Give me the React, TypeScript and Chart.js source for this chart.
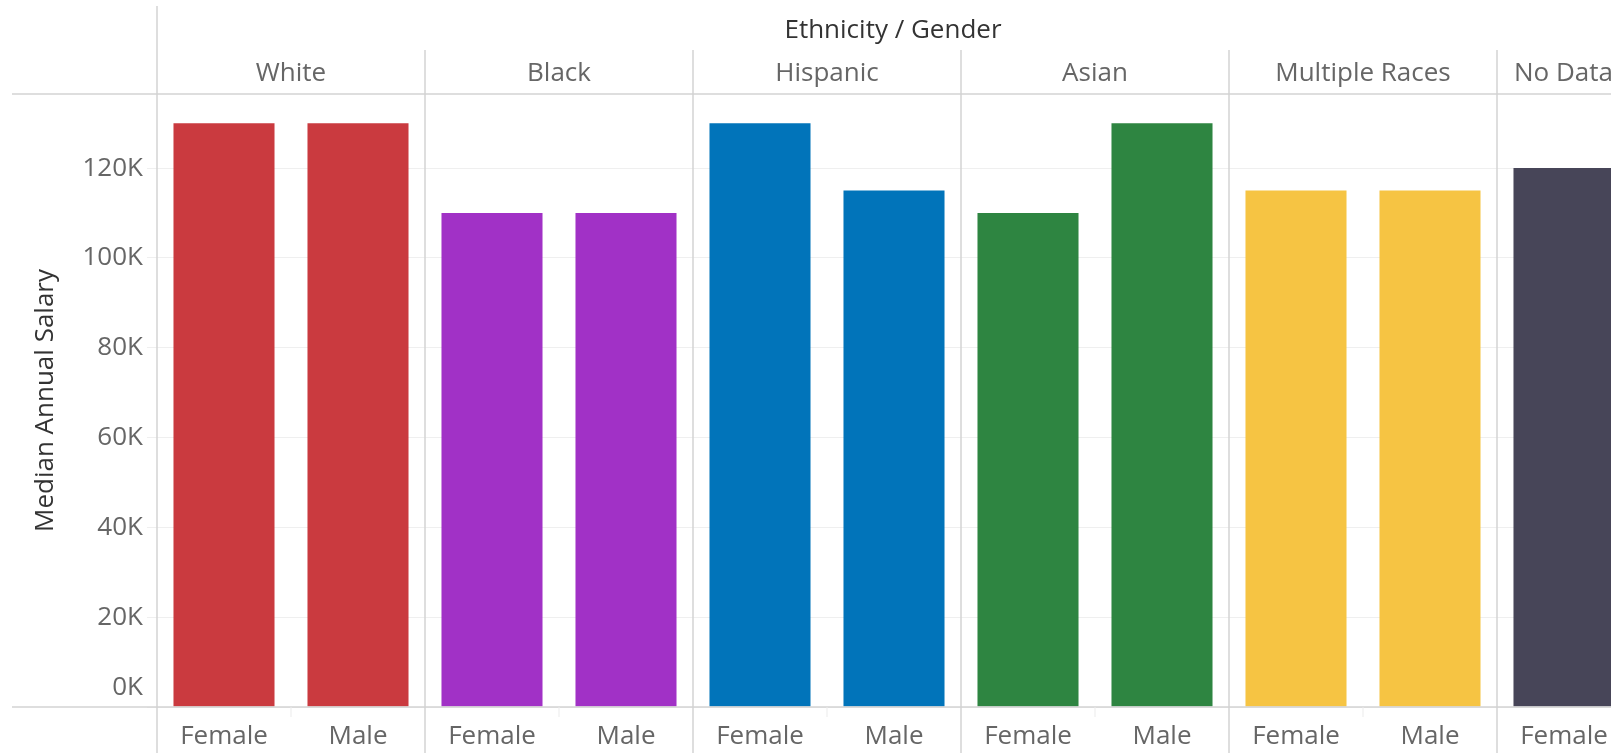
import React, { useEffect, useRef } from "react";
import { Chart, registerables } from "chart.js";

Chart.register(...registerables);

const groups = ["White", "Black", "Hispanic", "Asian", "Multiple Races", "No Data"];
const genders = ["Female", "Male"];
const categories = groups.flatMap(() => genders);
const salaries: (number | null)[] = [
  130000, 130000,
  110000, 110000,
  130000, 115000,
  110000, 130000,
  115000, 115000,
  120000, null,
];
const groupColors = ["#CA3A3F", "#A131C6", "#0174BA", "#2E8541", "#F6C443", "#474558"];
const yTicks = [0, 20000, 40000, 60000, 80000, 100000, 120000];
const yMax = 136500;
const yTitle = "Median Annual Salary";
const headerTitle = "Ethnicity / Gender";

const FONT = "'Open Sans', 'DejaVu Sans', sans-serif";
const LINE = "#d3d3d3";

const decorPlugin = {
  id: "decor",
  afterDraw(chart: any) {
    const { ctx, chartArea: area, scales } = chart;
    const xs = scales.x;
    const ys = scales.y;
    const W = chart.width;
    const H = chart.height;
    ctx.save();
    // frame lines
    ctx.strokeStyle = LINE;
    ctx.lineWidth = 1.5;
    ctx.beginPath();
    ctx.moveTo(12, area.top);
    ctx.lineTo(W, area.top);
    ctx.moveTo(12, area.bottom);
    ctx.lineTo(W, area.bottom);
    ctx.moveTo(area.left, 6);
    ctx.lineTo(area.left, H);
    for (let g = 1; g < groups.length; g++) {
      const px = (xs.getPixelForValue(2 * g - 1) + xs.getPixelForValue(2 * g)) / 2;
      ctx.moveTo(px, 50);
      ctx.lineTo(px, H);
    }
    ctx.stroke();
    // faint ticks between genders
    ctx.strokeStyle = "#ebebeb";
    ctx.lineWidth = 1;
    ctx.beginPath();
    for (let g = 0; g < groups.length; g++) {
      const px = (xs.getPixelForValue(2 * g) + xs.getPixelForValue(2 * g + 1)) / 2;
      ctx.moveTo(px, area.bottom);
      ctx.lineTo(px, area.bottom + 10);
    }
    ctx.stroke();

    // y tick labels (clamped inside the pane like Tableau)
    ctx.font = `26px ${FONT}`;
    ctx.fillStyle = "#666";
    ctx.textAlign = "right";
    ctx.textBaseline = "middle";
    ys.ticks.forEach((t: any) => {
      let py = ys.getPixelForValue(t.value);
      py = Math.min(py, area.bottom - 19);
      ctx.fillText(`${Math.round(t.value / 1000)}K`, area.left - 14, py);
    });

    // y title
    ctx.save();
    ctx.translate(46, (area.top + area.bottom) / 2);
    ctx.rotate(-Math.PI / 2);
    ctx.textAlign = "center";
    ctx.fillStyle = "#333";
    ctx.fillText(yTitle, 0, 0);
    ctx.restore();

    // header
    ctx.textAlign = "center";
    ctx.fillStyle = "#333";
    ctx.fillText(headerTitle, 893, 31);
    ctx.fillStyle = "#666";
    groups.forEach((g, i) => {
      const left = i === 0 ? area.left : (xs.getPixelForValue(2 * i - 1) + xs.getPixelForValue(2 * i)) / 2;
      const cx = (xs.getPixelForValue(2 * i) + xs.getPixelForValue(2 * i + 1)) / 2;
      const w = ctx.measureText(g).width;
      if (cx + w / 2 > 1611) {
        ctx.textAlign = "left";
        ctx.fillText(g, left + 17, 74);
        ctx.textAlign = "center";
      } else {
        ctx.fillText(g, cx, 74);
      }
    });
    ctx.restore();
  },
};

export default function App() {
  const ref = useRef<HTMLCanvasElement>(null);
  useEffect(() => {
    if (!ref.current) return;
    const colors = categories.map((_, i) => groupColors[Math.floor(i / 2)]);
    const chart = new Chart(ref.current, {
      type: "bar",
      data: {
        labels: categories,
        datasets: [
          {
            data: salaries,
            backgroundColor: colors,
            borderWidth: 0,
            barPercentage: 0.754,
            categoryPercentage: 1,
          },
        ],
      },
      options: {
        responsive: false,
        animation: false,
        layout: { padding: { top: 94, left: 0, right: 0, bottom: 0 } },
        plugins: { legend: { display: false }, tooltip: { enabled: false } },
        scales: {
          x: {
            grid: { display: false, drawTicks: false, tickLength: 0 },
            border: { display: false },
            ticks: {
              color: "#666",
              font: { family: FONT, size: 26 },
              padding: 14,
              maxRotation: 0,
              autoSkip: false,
            },
            afterFit: (s: any) => {
              s.height = 46;
            },
          },
          y: {
            min: 0,
            max: yMax,
            afterBuildTicks: (s: any) => {
              s.ticks = yTicks.map((v) => ({ value: v }));
            },
            ticks: { display: false, includeBounds: false },
            grid: { color: "#efefef", tickLength: 10, lineWidth: 1 },
            border: { display: false },
            afterFit: (s: any) => {
              s.width = 157;
            },
          },
        },
      },
      plugins: [decorPlugin],
    });
    return () => chart.destroy();
  }, []);
  return (
    <div
      style={{
        position: "fixed",
        left: 0,
        top: 0,
        width: 1611,
        height: 753,
        overflow: "hidden",
        background: "#fff",
      }}
    >
      <canvas ref={ref} width={1765} height={753} style={{ display: "block", width: 1765, height: 753 }} />
    </div>
  );
}
